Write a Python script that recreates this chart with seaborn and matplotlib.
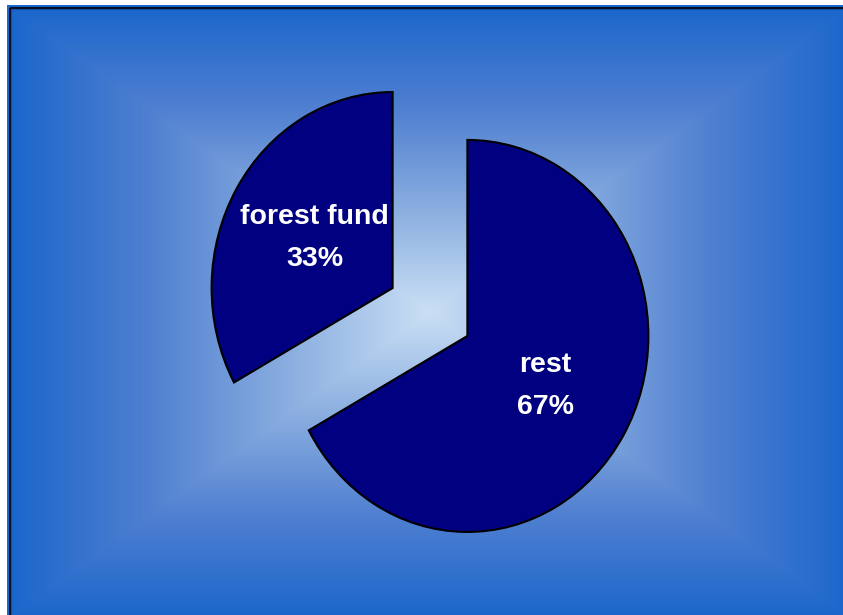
import numpy as np
import matplotlib
matplotlib.use("Agg")
import matplotlib.pyplot as plt
from matplotlib.patches import Rectangle
from matplotlib.colors import LinearSegmentedColormap
import seaborn as sns

# Land use shares
categories = ["rest", "forest fund"]
values = [67, 33]

sns.set_style("white")
plt.rcParams["font.family"] = ["Liberation Sans", "DejaVu Sans"]

W, H = 843, 615
fig = plt.figure(figsize=(W / 100, H / 100), dpi=100)

# --- backdrop: rectangular "from centre" gradient, light core to blue edges
bg = fig.add_axes([0, 0, 1, 1])
bg.set_xlim(0, W)
bg.set_ylim(H, 0)
bg.axis("off")

x0, y0, x1, y1 = 7, 5, 853, 619
cx, cy = (x0 + x1) / 2, (y0 + y1) / 2
xs = np.arange(x0, W) + 0.5
ys = np.arange(y0, H) + 0.5
XX, YY = np.meshgrid(xs, ys)
t = np.maximum(np.abs(XX - cx) / (cx - x0), np.abs(YY - cy) / (cy - y0))
t = np.clip(t, 0, 1)
cmap = LinearSegmentedColormap.from_list(
    "fill", ["#cadff4", "#8aaee0", "#4f7fd0", "#1a66cc"], N=256
)
bg.imshow(t, cmap=cmap, vmin=0, vmax=1, extent=(x0, W, H, y0),
          interpolation="bilinear", aspect="auto")
bg.add_patch(Rectangle((9.6, 7.6), 1000, 1000, fill=False,
                       edgecolor="black", linewidth=1.2))
bg.add_patch(Rectangle((10.6, 8.6), 1000, 1000, fill=False,
                       edgecolor="#0d3f8a", linewidth=0.8, alpha=0.6))

# --- exploded pie, slightly taller than wide
rx, ry = 181.0, 196.0
ax = fig.add_axes([0, 0, 1, 1])
ax.patch.set_alpha(0)
centre = (430.0 / rx, (H - 312.0) / ry)

names = iter(categories)
wedges, texts, autotexts = ax.pie(
    values,
    explode=[0.24, 0.24],
    startangle=90,
    counterclock=False,
    center=centre,
    radius=1.0,
    colors=["#000080", "#000080"],
    wedgeprops=dict(edgecolor="black", linewidth=1.5),
    autopct=lambda p: f"{next(names)}\n{p:.0f}%",
    pctdistance=0.5,
    textprops=dict(color="white", fontsize=20.5, fontweight="bold",
                   linespacing=1.8),
)
ax.set_aspect("auto")
ax.set_xlim(0, W / rx)
ax.set_ylim(0, H / ry)
ax.axis("off")

fig.savefig("out.png", dpi=100)
